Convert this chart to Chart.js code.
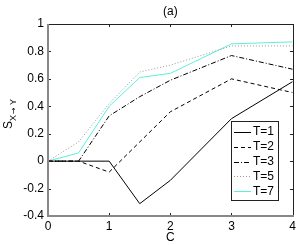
<!DOCTYPE html>
<html>
<head>
<meta charset="utf-8">
<script src="https://cdn.jsdelivr.net/npm/chart.js@4"></script>
<style>
  html, body { margin: 0; padding: 0; background: #fff; }
  #wrap { width: 299px; height: 245px; }
</style>
</head>
<body>
<div id="wrap"><canvas id="chart" width="299" height="245"></canvas></div>
<script>
const cValues = [0, 0.5, 1, 1.5, 2, 3, 4];
const seriesLabels = ["T=1", "T=2", "T=3", "T=5", "T=7"];
const t1 = [0, 0, 0, -0.31, -0.14, 0.31, 0.58];
const t2 = [0, 0, -0.08, 0.14, 0.36, 0.6, 0.5];
const t3 = [0, 0, 0.33, 0.47, 0.59, 0.77, 0.67];
const t5 = [0, 0.14, 0.42, 0.65, 0.7, 0.84, 0.84];
const t7 = [0, 0.06, 0.4, 0.61, 0.64, 0.855, 0.87];
const xTicks = [0, 1, 2, 3, 4];
const yTicks = [-0.4, -0.2, 0, 0.2, 0.4, 0.6, 0.8, 1];

const FONT = "'Liberation Sans', Arial, sans-serif";

const styles = [
  { color: "#000", dash: [] },
  { color: "#000", dash: [4, 3] },
  { color: "#000", dash: [5, 2, 1, 2] },
  { color: "#999", dash: [1, 2] },
  { color: "#5cf0d8", dash: [] }
];

function toPoints(arr) {
  return arr.map((v, i) => ({ x: cValues[i], y: v }));
}

const datasets = [t1, t2, t3, t5, t7].map((arr, i) => ({
  label: seriesLabels[i],
  data: toPoints(arr),
  borderColor: styles[i].color,
  borderDash: styles[i].dash,
  borderWidth: 1,
  pointRadius: 0,
  tension: 0,
  fill: false
}));

// frame, inward ticks, titles and legend
const decor = {
  id: "decor",
  afterDatasetsDraw(chart) {
    const ctx = chart.ctx;
    const a = chart.chartArea;
    const xs = chart.scales.x, ys = chart.scales.y;
    const L = Math.round(a.left), R = Math.round(a.right);
    const T = Math.round(a.top), B = Math.round(a.bottom);
    ctx.save();
    ctx.setLineDash([]);
    ctx.strokeStyle = "#222";
    ctx.lineWidth = 1;
    ctx.beginPath();
    ctx.moveTo(L, T + 0.5); ctx.lineTo(R + 0.5, T + 0.5); ctx.lineTo(R + 0.5, B);
    ctx.stroke();
    ctx.beginPath();
    xTicks.forEach(v => {
      const px = Math.round(xs.getPixelForValue(v)) + 0.5;
      ctx.moveTo(px, B); ctx.lineTo(px, B - 3);
      ctx.moveTo(px, T); ctx.lineTo(px, T + 3);
    });
    yTicks.forEach(v => {
      const py = Math.round(ys.getPixelForValue(v)) + 0.5;
      ctx.moveTo(L, py); ctx.lineTo(L + 3, py);
      ctx.moveTo(R, py); ctx.lineTo(R - 3, py);
    });
    ctx.stroke();
    // gray axis lines at left and bottom
    ctx.strokeStyle = "#888";
    ctx.lineWidth = 2;
    ctx.beginPath();
    ctx.moveTo(L, T); ctx.lineTo(L, B); ctx.lineTo(R + 1, B);
    ctx.stroke();

    // title
    ctx.fillStyle = "#000";
    ctx.font = "12px " + FONT;
    ctx.textAlign = "center";
    ctx.textBaseline = "middle";
    ctx.fillText("(a)", (a.left + a.right) / 2, 12);

    // y title S_{X->Y}
    ctx.translate(12, 129);
    ctx.rotate(-Math.PI / 2);
    ctx.textAlign = "left";
    ctx.textBaseline = "alphabetic";
    ctx.font = "12px " + FONT;
    ctx.fillText("S", 0, 0);
    ctx.font = "9px " + FONT;
    ctx.fillText("X", 8, 4);
    ctx.font = "8px 'DejaVu Sans', sans-serif";
    ctx.fillText("\u2192", 15, 4);
    ctx.font = "9px " + FONT;
    ctx.fillText("Y", 24, 4);
    ctx.setTransform(1, 0, 0, 1, 0, 0);

    // legend
    const lx = 231, ly = 121, lw = 47, lh = 79;
    ctx.fillStyle = "#fff";
    ctx.fillRect(lx, ly, lw, lh);
    ctx.strokeStyle = "#222";
    ctx.lineWidth = 1;
    ctx.strokeRect(lx + 0.5, ly + 0.5, lw, lh);
    ctx.font = "12px " + FONT;
    ctx.textAlign = "left";
    ctx.textBaseline = "middle";
    chart.data.datasets.forEach((ds, i) => {
      const y = ly + 11 + i * 14.8;
      ctx.strokeStyle = ds.borderColor;
      ctx.setLineDash(ds.borderDash);
      ctx.beginPath();
      ctx.moveTo(lx + 3, Math.round(y) + 0.5);
      ctx.lineTo(lx + 20, Math.round(y) + 0.5);
      ctx.stroke();
      ctx.setLineDash([]);
      ctx.fillStyle = "#000";
      ctx.fillText(ds.label, lx + 22, y);
    });
    ctx.restore();
  }
};

new Chart(document.getElementById("chart"), {
  type: "line",
  data: { datasets },
  options: {
    responsive: false,
    animation: false,
    layout: { padding: { top: 24, right: 6, left: 0, bottom: 0 } },
    plugins: { legend: { display: false }, tooltip: { enabled: false } },
    scales: {
      x: {
        type: "linear",
        min: 0, max: 4,
        afterBuildTicks: s => { s.ticks = xTicks.map(v => ({ value: v })); },
        afterFit: s => { s.height = 29; },
        grid: { display: false, drawTicks: false },
        border: { display: false },
        ticks: { color: "#000", font: { size: 12, family: FONT }, padding: 3 },
        title: { display: true, text: "C", color: "#000", font: { size: 12, family: FONT }, padding: 0 }
      },
      y: {
        type: "linear",
        min: -0.4, max: 1,
        afterBuildTicks: s => { s.ticks = yTicks.map(v => ({ value: v })); },
        afterFit: s => { s.width = 48; },
        grid: { display: false, drawTicks: false },
        border: { display: false },
        ticks: {
          color: "#000", font: { size: 12, family: FONT }, padding: 4,
          callback: v => String(Math.round(v * 10) / 10)
        }
      }
    }
  },
  plugins: [decor]
});
</script>
</body>
</html>
